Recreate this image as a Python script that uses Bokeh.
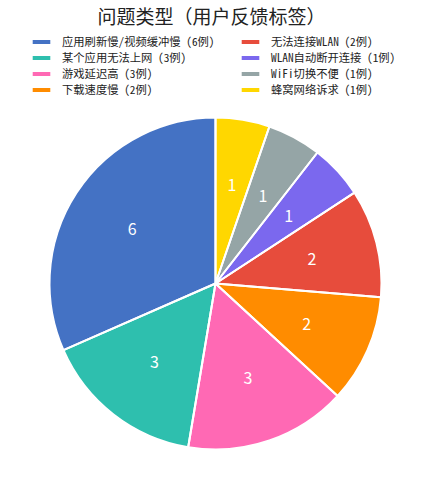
import numpy as np
from bokeh.plotting import figure
from bokeh.models import ColumnDataSource, Legend, LegendItem, Range1d, Label
from bokeh.embed import file_html
from bokeh.resources import INLINE
from bokeh.core.properties import value

title = "问题类型（用户反馈标签）"
categories = ["应用刷新慢/视频缓冲慢", "某个应用无法上网", "游戏延迟高", "下载速度慢",
              "无法连接WLAN", "WLAN自动断开连接", "WiFi切换不便", "蜂窝网络诉求"]
counts = [6, 3, 3, 2, 2, 1, 1, 1]
colors = ["#4472C4", "#2EBFAE", "#FF69B4", "#FF8C00",
          "#E74C3C", "#7B68EE", "#95A5A6", "#FFD700"]

CJK = "Noto Sans CJK SC"
MONO = "Noto Sans Mono CJK SC, Noto Sans CJK SC"

vals = np.array(counts, dtype=float)
total = vals.sum()
cum = np.cumsum(vals)
start = np.pi / 2 + 2 * np.pi * (cum - vals) / total
end = np.pi / 2 + 2 * np.pi * cum / total
mid = (start + end) / 2
src = ColumnDataSource(dict(
    start=start, end=end, color=colors,
    lx=0.6 * np.cos(mid), ly=0.6 * np.sin(mid),
    txt=[str(c) for c in counts],
    label=[f"{c} ({n}例)" for c, n in zip(categories, counts)],
))

W, H = 431, 500
R = 166            # pixel radius
cx, cy = 215, 283  # pie centre in canvas px (from top-left)
x_rng = Range1d(-cx / R, (W - cx) / R)
y_rng = Range1d(-(H - cy) / R, cy / R)

p = figure(width=W, height=H, output_backend="svg", toolbar_location=None,
           x_range=x_rng, y_range=y_rng, min_border=0,
           x_axis_location=None, y_axis_location=None)
p.grid.visible = False
p.outline_line_color = None

p.add_layout(Label(x=211, y=H - 15, x_units="screen", y_units="screen", text=title,
                   text_align="center", text_baseline="middle", text_font=CJK,
                   text_font_size="19px", text_color="#222222"))

fill = p.wedge(x=0, y=0, radius=1, start_angle="start", end_angle="end",
               fill_color="color", line_color=None, source=src)
p.wedge(x=0, y=0, radius=1, start_angle="start", end_angle="end",
        fill_alpha=0, line_color="white", line_width=2, source=src)
p.text(x="lx", y="ly", text="txt", source=src, text_color="white",
       text_align="center", text_baseline="middle",
       text_font=value(CJK), text_font_size="16px")

def mk_legend(idx, loc):
    lg = Legend(items=[LegendItem(label=src.data["label"][i], renderers=[fill], index=i) for i in idx],
                location=loc, orientation="vertical", padding=0, margin=0, spacing=0,
                glyph_width=22, glyph_height=5, label_height=16, label_standoff=10,
                label_text_font=MONO, label_text_font_size="11.3px", label_text_color="#222222",
                border_line_color=None, background_fill_alpha=0)
    p.add_layout(lg, "center")

mk_legend([0, 1, 2, 3], (30, 403))
mk_legend([4, 5, 6, 7], (239, 403))

open("out.html", "w").write(file_html(p, INLINE))
